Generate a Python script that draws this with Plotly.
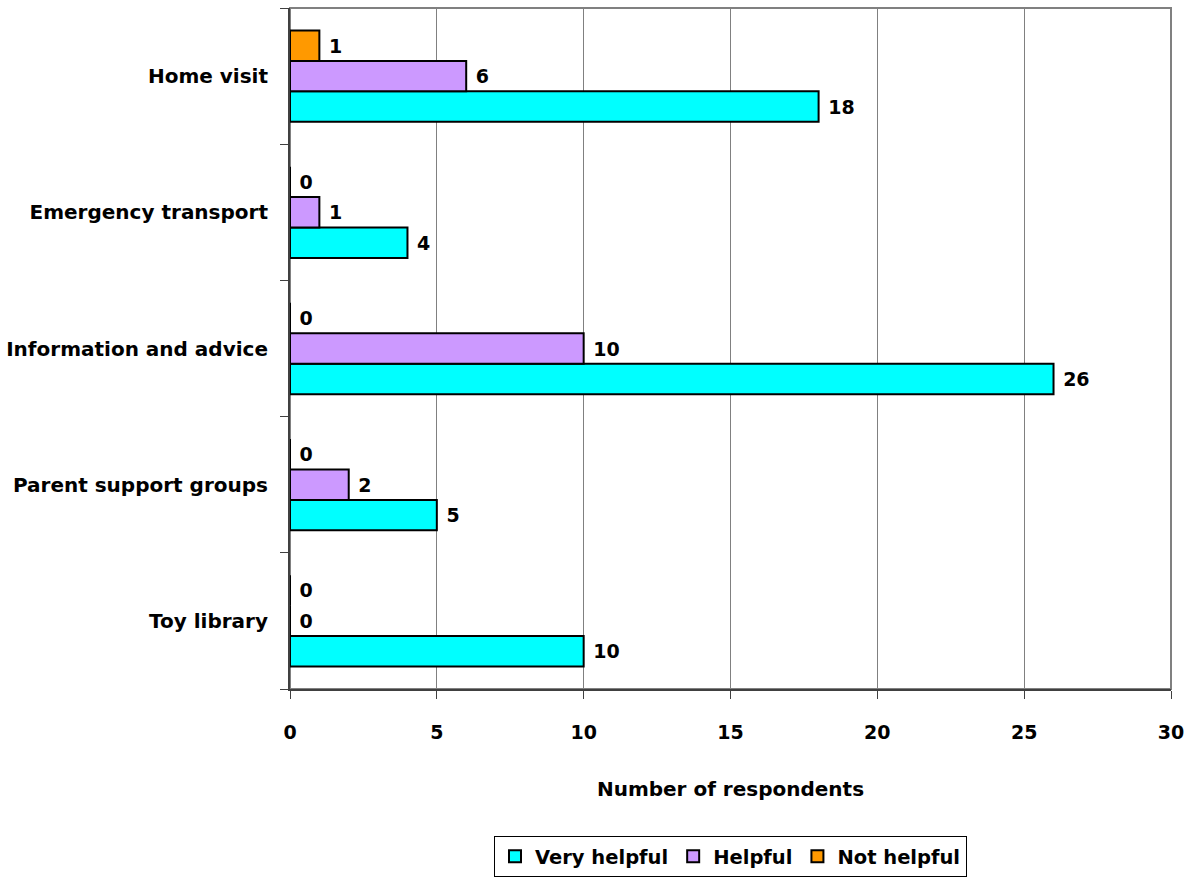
import plotly.graph_objects as go

# Services, listed bottom-to-top as drawn on the category axis
services = ["Toy library", "Parent support groups", "Information and advice",
            "Emergency transport", "Home visit"]
very_helpful = [10, 5, 26, 4, 18]
helpful = [0, 2, 10, 1, 6]
not_helpful = [0, 0, 0, 0, 1]

x_ticks = [0, 5, 10, 15, 20, 25, 30]

FONT = "DejaVu Sans"
LABEL_PAD = "\u00a0"  # small gap between a bar end and its value label

series = [
    ("Very helpful", very_helpful, "#00FFFF"),
    ("Helpful", helpful, "#CC99FF"),
    ("Not helpful", not_helpful, "#FF9900"),
]

fig = go.Figure()
for name, vals, color in series:
    fig.add_trace(go.Bar(
        y=services, x=vals, name=name, orientation="h",
        marker=dict(color=color, line=dict(color="black", width=2)),
        text=[LABEL_PAD + str(v) for v in vals], textposition="outside",
        textfont=dict(family=FONT, size=19, color="black", weight="bold"),
        cliponaxis=False,
    ))

fig.update_layout(
    width=1202, height=882,
    margin=dict(l=290, r=31, t=8, b=193, autoexpand=False),
    paper_bgcolor="white", plot_bgcolor="white",
    barmode="group", bargap=0.33, bargroupgap=0,
    font=dict(family=FONT, size=19, color="black", weight="bold"),
    showlegend=True,
    legend=dict(
        orientation="h", x=0.5, xanchor="center", y=-0.216, yanchor="top",
        bordercolor="black", borderwidth=1, bgcolor="white",
        font=dict(family=FONT, size=19.5, color="black", weight="bold"),
        traceorder="normal", itemwidth=30,
    ),
    xaxis=dict(
        range=[0, 30], tickvals=x_ticks, showgrid=True, gridcolor="#808080",
        gridwidth=1, zeroline=False, showline=True, linecolor="#404040",
        linewidth=2, ticks="outside", ticklen=8, tickcolor="#404040",
        ticklabelstandoff=17, automargin=False,
        tickfont=dict(family=FONT, size=19, color="black", weight="bold"),
        title=dict(text="Number of respondents", standoff=40,
                   font=dict(family=FONT, size=20, color="black", weight="bold")),
    ),
    yaxis=dict(
        categoryorder="array", categoryarray=services,
        showgrid=False, showline=True, linecolor="#404040", linewidth=2,
        ticks="outside", tickson="boundaries", ticklen=8, tickcolor="#404040",
        ticklabelstandoff=16, automargin=False,
        tickfont=dict(family=FONT, size=20, color="black", weight="bold"),
    ),
    shapes=[dict(type="rect", xref="paper", yref="paper", x0=0, x1=1, y0=0, y1=1,
                 line=dict(color="#808080", width=2), layer="below")],
)

fig.write_html("out.html")
